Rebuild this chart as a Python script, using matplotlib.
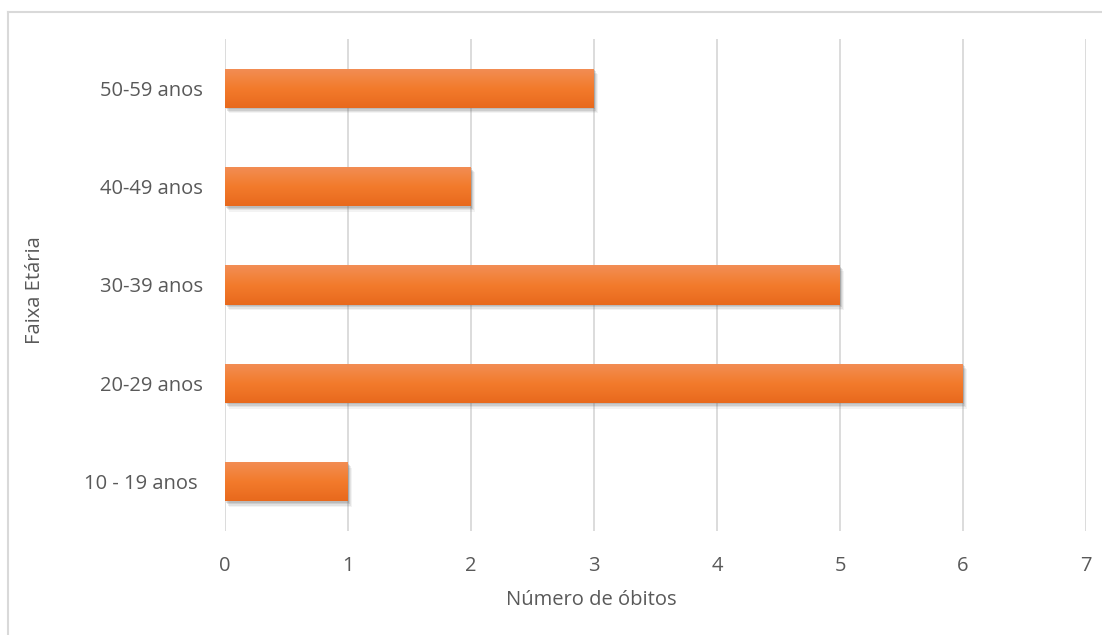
import matplotlib
matplotlib.use("Agg")
import matplotlib.pyplot as plt
import numpy as np
from matplotlib import patheffects
from matplotlib.colors import LinearSegmentedColormap
from matplotlib.lines import Line2D

# Óbitos por faixa etária
categories = ["10 - 19 anos ", "20-29 anos", "30-39 anos", "40-49 anos", "50-59 anos"]
deaths = [1, 6, 5, 2, 3]
x_ticks = [0, 1, 2, 3, 4, 5, 6, 7]

plt.rcParams['font.family'] = ['Open Sans', 'DejaVu Sans']
text_color = "#595959"
fs = 14.5

W, H = 1102, 635
fig = plt.figure(figsize=(W / 100, H / 100), dpi=100)
ax = fig.add_axes([225 / W, 1 - 531 / H, (1086 - 225) / W, (531 - 39) / H])

bar_h = 0.4
grad = LinearSegmentedColormap.from_list("orange", ["#E8691D", "#F37B2C", "#F28E55"])
ypos = np.arange(len(categories))

# soft drop shadow built from a few translucent offset layers
shadow = [patheffects.SimplePatchShadow(offset=(dx, dy), shadow_rgbFace="#6f6f6f", alpha=a)
          for dx, dy, a in [(3, -4, 0.08), (2, -3, 0.12), (1.5, -2, 0.18), (1, -1, 0.2)]]
bars = ax.barh(ypos, deaths, height=bar_h, color="#F07B2E", zorder=3,
               path_effects=shadow + [patheffects.Normal()])
for rect, y, v in zip(bars, ypos, deaths):
    img = ax.imshow(np.linspace(0, 1, 100).reshape(-1, 1), cmap=grad, aspect="auto",
                    origin="lower", extent=(0, v, y - bar_h / 2, y + bar_h / 2), zorder=4,
                    interpolation="bilinear")
    img.set_clip_path(rect)

ax.set_xlim(0, 7)
ax.set_ylim(-0.5, len(categories) - 0.5)
ax.set_xticks(x_ticks)
ax.set_yticks(ypos)
ax.set_yticklabels(categories)
ax.grid(axis="x", color="#D9D9D9", linewidth=1.3, zorder=0)
ax.set_axisbelow(True)
for s in ax.spines.values():
    s.set_visible(False)
ax.tick_params(length=0, labelsize=fs, colors=text_color)
ax.tick_params(axis="x", pad=18)
ax.tick_params(axis="y", pad=16)

ax.set_xlabel("Número de óbitos", fontsize=fs, color=text_color)
ax.xaxis.label.set_va("center")
ax.xaxis.set_label_coords(0.425, -0.140)
ax.set_ylabel("Faixa Etária", fontsize=fs, color=text_color)
ax.yaxis.label.set_va("center")
ax.yaxis.set_label_coords(-0.2207, 0.49)

# chart area outline
fig.add_artist(Line2D([8 / W, 8 / W], [0, 1 - 12 / H], transform=fig.transFigure, color="#D9D9D9", lw=1.5))
fig.add_artist(Line2D([8 / W, 1], [1 - 12 / H, 1 - 12 / H], transform=fig.transFigure, color="#D9D9D9", lw=1.5))

fig.savefig("out.png", dpi=100)
